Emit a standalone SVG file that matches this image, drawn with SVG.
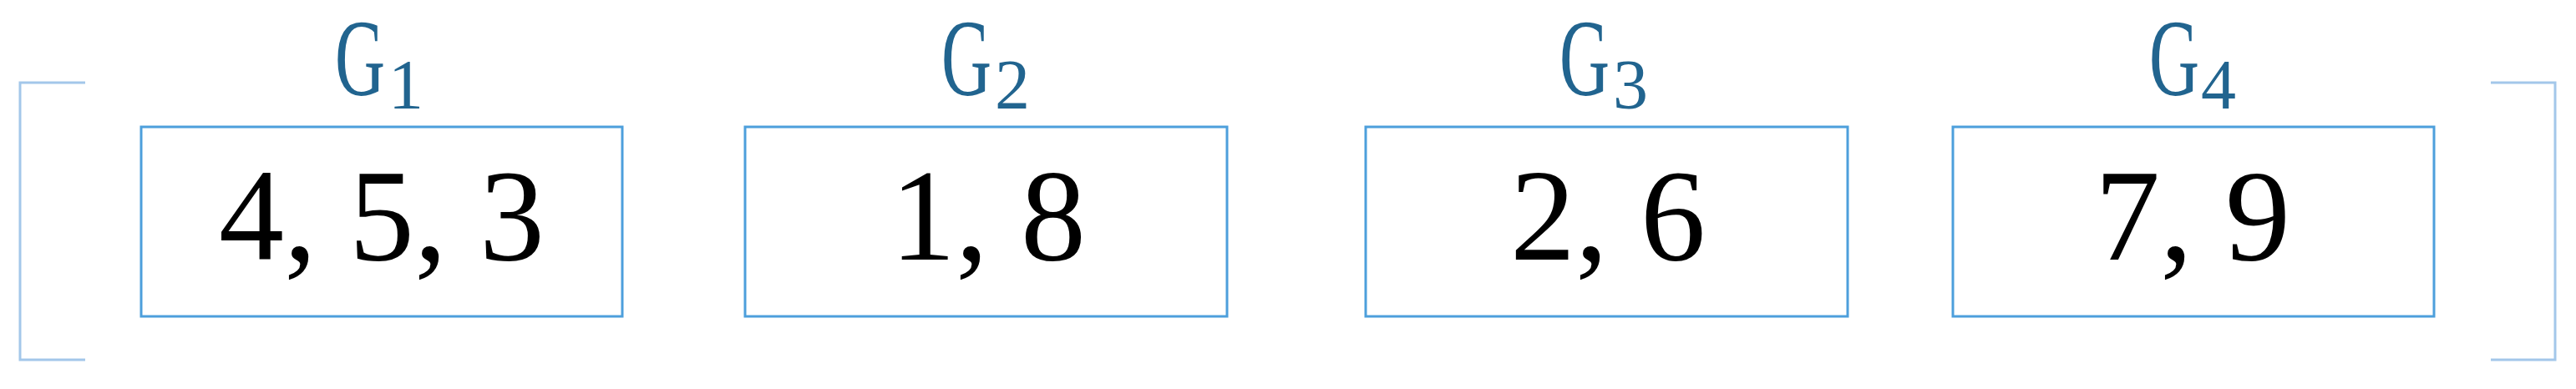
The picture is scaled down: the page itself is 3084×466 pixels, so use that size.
<svg xmlns="http://www.w3.org/2000/svg" width="3084" height="466" viewBox="0 0 3084 466">
<style>
.box{fill:#ffffff;stroke:#4d9fdc;stroke-width:3}
.brk{fill:none;stroke:#a3c7ea;stroke-width:3}
.val{font-family:"Liberation Serif","DejaVu Serif",serif;font-size:156px;fill:#000;text-anchor:middle}
.lbl{font-family:"Liberation Serif","DejaVu Serif",serif;font-size:132px;fill:#21648f;text-anchor:middle}
.sub{font-family:"Liberation Serif","DejaVu Serif",serif;font-size:84px;fill:#21648f;text-anchor:middle}
</style>
<rect width="3084" height="466" fill="#ffffff"/>
<g id="brackets">
<path class="brk" d="M102,99 H24 V431 H102"/>
<path class="brk" d="M2982,99 H3059 V431 H2982"/>
</g>
<g id="connectors"></g>
<g id="node1">
<rect class="box" x="169" y="152" width="576" height="227"/>
<text class="val" x="457" y="311">4, 5, 3</text>
<text class="lbl" transform="translate(431,114) scale(0.63,1)">G</text>
<text class="sub" x="486" y="130">1</text>
</g>
<g id="node2">
<rect class="box" x="892" y="152" width="577" height="227"/>
<text class="val" x="1183" y="311">1, 8</text>
<text class="lbl" transform="translate(1157,114) scale(0.63,1)">G</text>
<text class="sub" x="1212" y="130">2</text>
</g>
<g id="node3">
<rect class="box" x="1635" y="152" width="577" height="227"/>
<text class="val" x="1925" y="311">2, 6</text>
<text class="lbl" transform="translate(1897,114) scale(0.63,1)">G</text>
<text class="sub" x="1952" y="130">3</text>
</g>
<g id="node4">
<rect class="box" x="2338" y="152" width="576" height="227"/>
<text class="val" x="2625" y="311">7, 9</text>
<text class="lbl" transform="translate(2603,114) scale(0.63,1)">G</text>
<text class="sub" x="2656" y="130">4</text>
</g>
</svg>
